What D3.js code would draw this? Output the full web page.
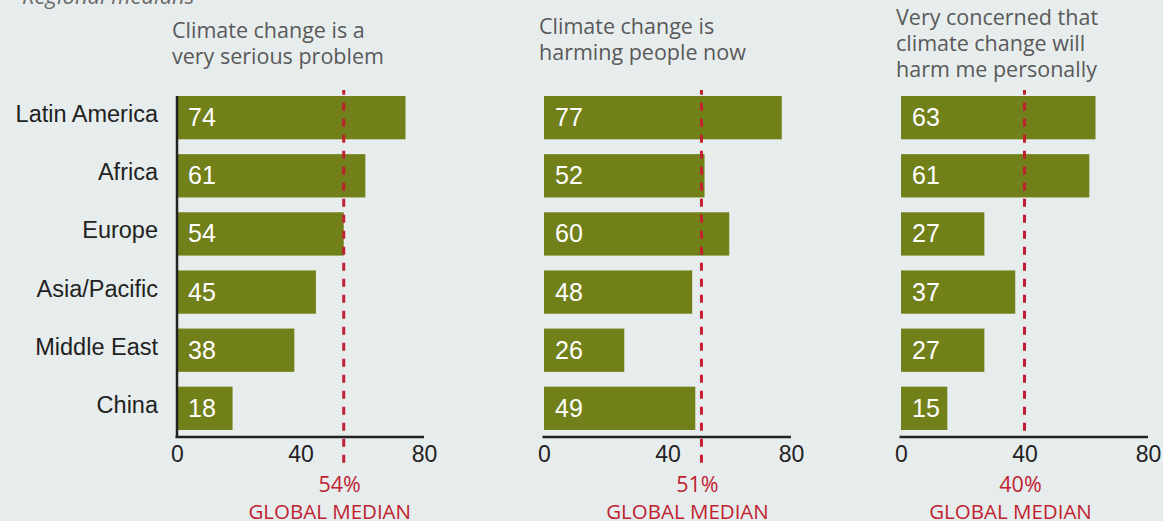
<!DOCTYPE html>
<html><head><meta charset="utf-8">
<script src="https://cdn.jsdelivr.net/npm/d3@7"></script>
<style>
html,body{margin:0;padding:0;background:#e7eded;}
svg{display:block;}
</style></head>
<body><svg id="c" width="1163" height="521"></svg>
<script>
const categories = ["Latin America","Africa","Europe","Asia/Pacific","Middle East","China"];
const seriousValues = [74,61,54,45,38,18];
const harmingValues = [77,52,60,48,26,49];
const personalValues = [63,61,27,37,27,15];
const globalMedians = [54,51,40];
const panelTitles = [
  ["Climate change is a","very serious problem"],
  ["Climate change is","harming people now"],
  ["Very concerned that","climate change will","harm me personally"]
];
const tickValues = [0,40,80];
const subtitle = "Regional medians";

const panels = [
  {values: seriousValues, x0: 177, titleX: 172, titleY: 38, yAxis: true},
  {values: harmingValues, x0: 544, titleX: 539, titleY: 34, yAxis: false},
  {values: personalValues, x0: 901, titleX: 896, titleY: 25, yAxis: false}
];

const svg = d3.select("#c");
const BAR = "#72801a", RED = "#c0212f", BG = "#e7eded";
const calFont = "'Open Sans', sans-serif";
const arialFont = "'Liberation Sans', Arial, sans-serif";

svg.append("rect").attr("width",1163).attr("height",521).attr("fill",BG);

svg.append("text").attr("x",22).attr("y",4)
  .attr("font-family",calFont).attr("font-style","italic").attr("font-size",22)
  .attr("fill","#6b6b6b").text(subtitle);

const y = d3.scaleBand().domain(categories).range([96,430]).paddingInner(0.255).paddingOuter(0);
const axisY = 437;

// category labels
svg.append("g").selectAll("text").data(categories).join("text")
  .attr("x",158).attr("y",d=>y(d)+y.bandwidth()/2+4.5)
  .attr("text-anchor","end").attr("font-family",arialFont).attr("font-size",23.5)
  .attr("fill","#222").text(d=>d);

panels.forEach((p,i)=>{
  const x = d3.scaleLinear().domain([0,80]).range([p.x0,p.x0+247]);
  const g = svg.append("g");
  // title
  const t = g.append("text").attr("font-family",calFont).attr("font-size",21.5).attr("fill","#595959");
  panelTitles[i].forEach((line,j)=>{
    t.append("tspan").attr("x",p.titleX).attr("y",p.titleY+j*26).text(line);
  });
  // bars
  g.selectAll("rect.bar").data(p.values).join("rect").attr("class","bar")
    .attr("x",x(0)).attr("y",(d,k)=>y(categories[k]))
    .attr("width",d=>x(d)-x(0)).attr("height",y.bandwidth()).attr("fill",BAR);
  g.selectAll("text.val").data(p.values).join("text").attr("class","val")
    .attr("x",x(0)+11).attr("y",(d,k)=>y(categories[k])+y.bandwidth()/2+8.5)
    .attr("font-family",arialFont).attr("font-size",25).attr("fill","#fff").text(d=>d);
  // x axis
  const ax = g.append("g").attr("transform",`translate(0,${axisY})`)
    .call(d3.axisBottom(x).tickValues(tickValues).tickSize(0).tickPadding(9).tickFormat(d3.format("d")));
  ax.select(".domain").attr("stroke","#222").attr("stroke-width",2.5).attr("d",`M${x(0)-1.5},0H${x(80)}`);
  ax.selectAll("text").attr("font-family",arialFont).attr("font-size",23).attr("fill","#222");
  if(p.yAxis){
    g.append("line").attr("x1",x(0)).attr("x2",x(0)).attr("y1",96).attr("y2",axisY)
      .attr("stroke","#222").attr("stroke-width",2.5);
  }
  // median line
  const m = globalMedians[i];
  const yEnd = tickValues.includes(m) ? axisY - 1 : 463;
  g.append("line").attr("x1",x(m)).attr("x2",x(m)).attr("y1",90).attr("y2",yEnd)
    .attr("stroke",RED).attr("stroke-width",3).attr("stroke-dasharray","8,8").attr("stroke-dashoffset",3.3);
  g.append("text").attr("x",x(m)-4).attr("y",492).attr("text-anchor","middle")
    .attr("font-family",calFont).attr("font-size",21.5).attr("fill",RED).text(m+"%");
  g.append("text").attr("x",x(m)-14).attr("y",519).attr("text-anchor","middle")
    .attr("font-family",calFont).attr("font-size",20.5).attr("fill",RED).text("GLOBAL MEDIAN");
});
</script></body></html>
